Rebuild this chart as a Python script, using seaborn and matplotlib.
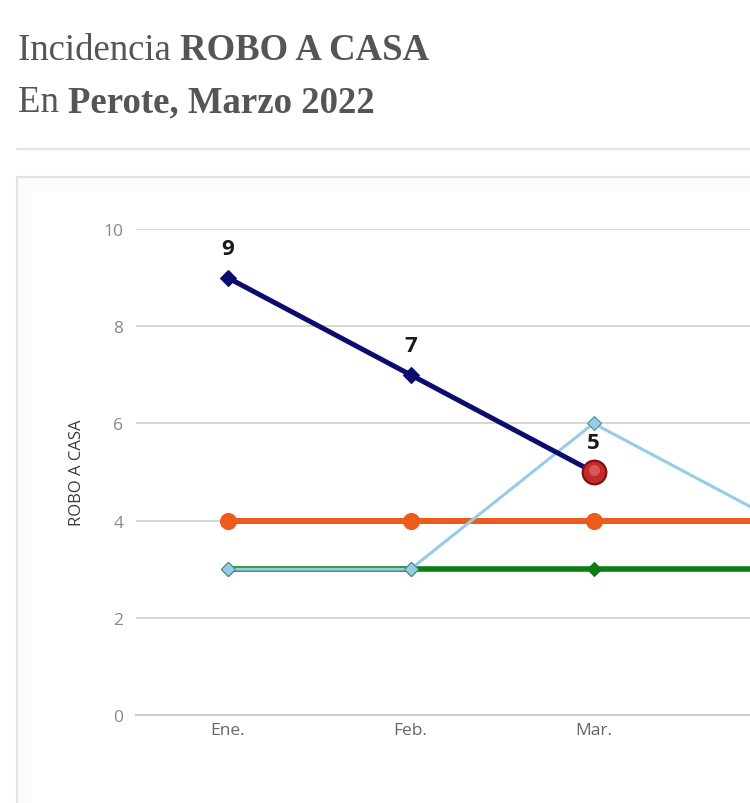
import matplotlib
matplotlib.use("Agg")
import matplotlib.pyplot as plt
import seaborn as sns
import pandas as pd
from matplotlib.patches import Rectangle
from matplotlib.lines import Line2D

# ---- data ----
months = ["Ene.", "Feb.", "Mar.", "Abr."]
orange_vals = [4, 4, 4, 4]
green_vals = [3, 3, 3, 3]
lightblue_vals = [3, 3, 6, 4]
navy_vals = [9, 7, 5]
yticks = [0, 2, 4, 6, 8, 10]
ylabel = "ROBO A CASA"
visible_months = 3

sns.set_theme(style="white")
plt.rcParams["font.family"] = ["Open Sans", "DejaVu Sans"]

W, H = 750, 804
fig = plt.figure(figsize=(W / 100, H / 100), dpi=100)
fig.patch.set_facecolor("white")

def fx(px):
    return px / W

def fy(py):
    return 1 - py / H

# card + separator
fig.add_artist(Line2D([fx(17), fx(750)], [fy(150), fy(150)], color="#e4e4e4", lw=1.6, zorder=0))
fig.add_artist(Rectangle((fx(17), fy(820)), fx(800), fy(178) - fy(820), facecolor="#fbfbfb",
                         edgecolor="#e2e2e2", lw=1.5, zorder=0))
fig.add_artist(Rectangle((fx(32), fy(820)), fx(800), fy(192) - fy(820), facecolor="white",
                         edgecolor="none", zorder=0.5))

ax = fig.add_axes([fx(136), fy(716), fx(4 * 183), (716 - 230) / H])
ax.set_zorder(3)
ax.set_facecolor("none")

series = [
    ("orange", orange_vals, "#ec5a1c", "o", 11.5, 4.3, 2),
    ("green", green_vals, "#0b7d12", "D", 7, 4.0, 3),
    ("lightblue", lightblue_vals, "#95cde6", "D", 7, 2.2, 4),
    ("navy", navy_vals, "#0c0c6e", "D", 8, 3.6, 5),
]
for name, vals, col, mk, ms, lw, z in series:
    df = pd.DataFrame({"mes": months[:len(vals)], "valor": vals})
    sns.lineplot(data=df, x="mes", y="valor", ax=ax, color=col, lw=lw, marker=mk,
                 markersize=ms, markeredgecolor=col if name != "lightblue" else "#4a8f8f",
                 markeredgewidth=0.8, zorder=z, legend=False, sort=False)

# highlighted last navy point
ax.plot([len(navy_vals) - 1], [navy_vals[-1]], marker="o", ms=17, color="#c42a2a",
        mec="#7c1313", mew=1.6, zorder=6, clip_on=False)
ax.plot([len(navy_vals) - 1], [navy_vals[-1] + 0.04], marker="o", ms=8, color="#e27a7a",
        mec="none", alpha=0.6, zorder=7, clip_on=False)

for i, v in enumerate(navy_vals):
    ax.text(i, v + 0.6, str(v), ha="center", va="center", fontsize=16, fontweight="bold",
            color="#1a1a1a", zorder=8, family=["Open Sans", "DejaVu Sans"])

ax.set_xlim(-0.5, 3.5)
ax.set_ylim(0, 10)
ax.set_yticks(yticks)
ax.set_yticklabels([str(t) for t in yticks])
ax.grid(axis="y", color="#d3d3d3", lw=1.3)
ax.grid(axis="x", visible=False)
for s in ["top", "right", "left"]:
    ax.spines[s].set_visible(False)
ax.spines["bottom"].set_color("#cccccc")
ax.spines["bottom"].set_linewidth(1.5)
ax.set_axisbelow(True)

ax.set_xticks(range(len(months)))
ax.set_xticklabels([m if i < visible_months else "" for i, m in enumerate(months)])
ax.set_xticks([i - 0.5 for i in range(len(months) + 1)], minor=True)
ax.tick_params(axis="x", which="major", length=0, pad=5, labelsize=12.5, labelcolor="#666666")
ax.tick_params(axis="x", which="minor", length=5, width=1, color="#cccccc", direction="inout")
ax.tick_params(axis="y", length=0, pad=9, labelsize=12.5, labelcolor="#888888")
ax.set_xlabel("")
ax.set_ylabel(ylabel, fontsize=12, color="#3a3a3a")
ax.yaxis.set_label_coords((85 - 136) / (4 * 183), (716 - 473) / 486)

# title
renderer = fig.canvas.get_renderer()
def title_line(parts, x0, ybase):
    x = x0
    for txt, weight in parts:
        t = fig.text(fx(x), fy(ybase), txt, fontsize=26.5, fontweight=weight, color="#555555",
                     family="Liberation Serif", va="baseline", ha="left")
        bb = t.get_window_extent(renderer)
        x += bb.width

title_line([("Incidencia ", "normal"), ("ROBO A CASA", "bold")], 18, 60)
title_line([("En ", "normal"), ("Perote, Marzo 2022", "bold")], 18, 112)

fig.savefig("out.png", dpi=100)
